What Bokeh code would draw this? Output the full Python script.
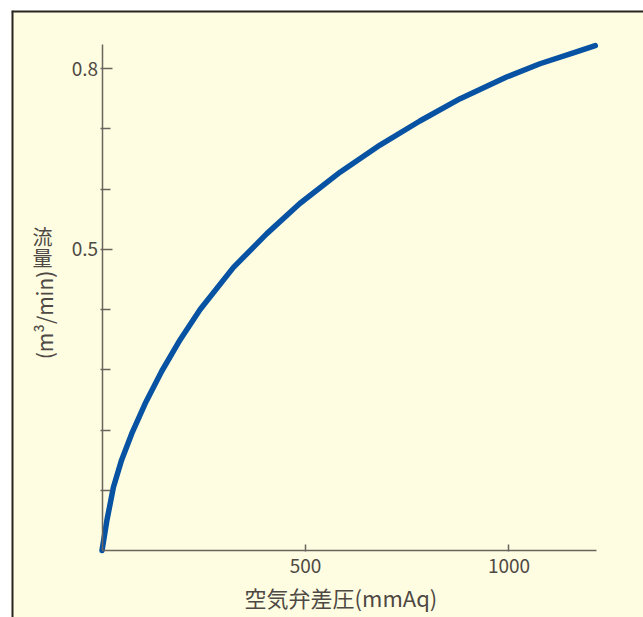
import math
from bokeh.plotting import figure
from bokeh.models import Range1d, FixedTicker, Label, Span
from bokeh.embed import file_html
from bokeh.resources import INLINE

# --- data ---
pressure = [0, 12, 28, 48, 73, 106, 147, 192, 241, 323, 405, 486, 585, 683, 781, 880, 994, 1076, 1158, 1212]
flow = [0.0, 0.050, 0.105, 0.150, 0.194, 0.244, 0.298, 0.350, 0.400, 0.470, 0.526, 0.576, 0.628,
        0.673, 0.713, 0.750, 0.786, 0.808, 0.826, 0.838]
x_ticks = [500, 1000]
y_ticks = [0.5, 0.8]
y_minor = [0.1, 0.2, 0.3, 0.4, 0.6, 0.7]
x_axis_end = 1216
y_axis_end = 0.84
x_title = "空気弁差圧(mmAq)"
y_title_cjk = ["流", "量"]
y_title_unit = "(m³/min)"

BG = "#fefde1"
AX = "#6b655f"
TXT = "#4e4944"
EDGE = "#2a2522"
CJK = "Noto Sans CJK JP"

X0, X1 = -222.4, 1330.5
Y0, Y1 = -0.1112, 0.8964

# the frame is the whole cream panel; axes are fixed at the data origin
p = figure(width=643, height=617, output_backend="svg", toolbar_location=None,
           x_range=Range1d(X0, X1), y_range=Range1d(Y0, Y1),
           min_border_left=11, min_border_right=0, min_border_top=10, min_border_bottom=0)
p.background_fill_color = BG
p.border_fill_color = "white"
p.outline_line_color = None
p.grid.visible = False

p.add_layout(Span(location=X0, dimension="height", line_color=EDGE, line_width=4))
p.add_layout(Span(location=Y1, dimension="width", line_color=EDGE, line_width=4))

p.xaxis.fixed_location = 0
p.yaxis.fixed_location = 0
p.xaxis.bounds = (0, x_axis_end)
p.yaxis.bounds = (0, y_axis_end)
p.xaxis.ticker = FixedTicker(ticks=x_ticks, minor_ticks=[])
p.yaxis.ticker = FixedTicker(ticks=y_ticks, minor_ticks=y_minor)
for ax in (p.xaxis, p.yaxis):
    ax.axis_line_color = AX
    ax.axis_line_width = 1.5
    ax.major_tick_line_color = AX
    ax.major_tick_line_width = 1.5
    ax.minor_tick_line_color = AX
    ax.minor_tick_line_width = 1.5
    ax.major_label_text_font = CJK
    ax.major_label_text_font_size = "19px"
    ax.major_label_text_color = TXT
p.xaxis.major_tick_in = 6
p.xaxis.major_tick_out = 1
p.xaxis.minor_tick_in = 0
p.xaxis.minor_tick_out = 0
p.xaxis.major_label_standoff = 7
p.yaxis.major_tick_in = 10
p.yaxis.major_tick_out = 2
p.yaxis.minor_tick_in = 8
p.yaxis.minor_tick_out = 2
p.yaxis.major_label_standoff = 2

p.line(pressure, flow, line_color="#0752a2", line_width=5.5, line_cap="round", line_join="round")

p.add_layout(Label(x=587, y=-0.078, text=x_title, text_font=CJK, text_font_size="22px",
                   text_color=TXT, text_align="center", text_baseline="middle"))
for i, ch in enumerate(y_title_cjk):
    p.add_layout(Label(x=-146, y=0.522 - i * 0.0349, text=ch, text_font=CJK, text_font_size="20px",
                       text_color=TXT, text_align="center", text_baseline="middle"))
p.add_layout(Label(x=-143, y=0.391, text=y_title_unit, angle=math.pi / 2, text_font=CJK,
                   text_font_size="21px", text_color=TXT, text_align="center", text_baseline="middle"))

open("out.html", "w").write(file_html(p, INLINE))
